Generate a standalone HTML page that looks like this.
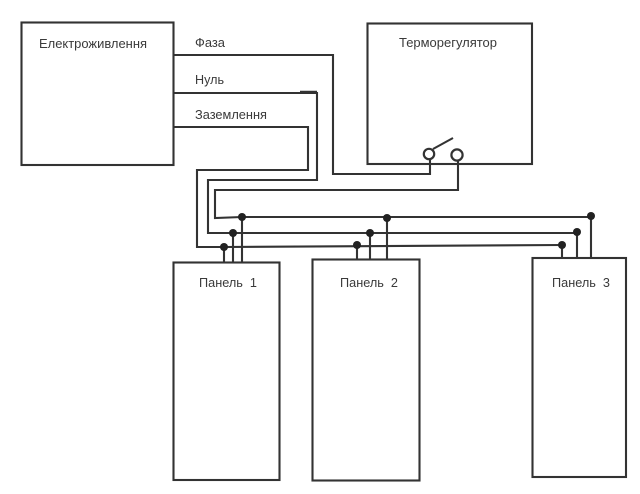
<!DOCTYPE html>
<html><head><meta charset="utf-8"><style>html,body{margin:0;padding:0;background:#fff}svg{display:block}text{font-family:"Liberation Sans",sans-serif;font-size:12.5px;fill:#3a3a3a}</style></head>
<body>
<svg width="640" height="494" viewBox="0 0 640 494" xmlns="http://www.w3.org/2000/svg">
<rect width="640" height="494" fill="#fff"/>
<g fill="none" stroke="#333" stroke-width="2.1">
<rect x="21.5" y="22.5" width="152" height="142.5"/>
<rect x="367.5" y="23.5" width="164.5" height="140.5"/>
<rect x="173.5" y="262.5" width="106" height="217.5"/>
<rect x="312.5" y="259.5" width="107" height="221"/>
<rect x="532.5" y="258" width="93.5" height="219"/>
<path d="M174 55H333V174H430V159"/>
<path d="M174 93H317V180H208V233H577"/>
<path d="M174 127H308V170H197V247L224 247L562 245"/>
<path d="M458 160V190H215V218L242 217H591"/>
<path d="M224 247V262M233 233V262M242 217V262M357 245V259M370 233V259M387 218V259M562 245V258M577 232V258M591 216V258"/>
<path d="M433 149L453 138"/>
<path d="M300 92H317" stroke-width="2.6"/>
<circle cx="429" cy="154" r="5.2" stroke-width="2.2"/>
<circle cx="457" cy="155" r="5.6" stroke-width="2.2"/>
</g>
<g fill="#222">
<circle cx="242" cy="217" r="4"/><circle cx="387" cy="218" r="4"/><circle cx="591" cy="216" r="4"/>
<circle cx="233" cy="233" r="4"/><circle cx="370" cy="233" r="4"/><circle cx="577" cy="232" r="4"/>
<circle cx="224" cy="247" r="4"/><circle cx="357" cy="245" r="4"/><circle cx="562" cy="245" r="4"/>
</g>
<text x="39" y="48" textLength="108" lengthAdjust="spacingAndGlyphs">Електроживлення</text>
<text x="195" y="47" textLength="30" lengthAdjust="spacingAndGlyphs">Фаза</text>
<text x="195" y="84" textLength="29" lengthAdjust="spacingAndGlyphs">Нуль</text>
<text x="195" y="119" textLength="72" lengthAdjust="spacingAndGlyphs">Заземлення</text>
<text x="399" y="47" textLength="98" lengthAdjust="spacingAndGlyphs">Терморегулятор</text>
<text x="199" y="287" textLength="58" xml:space="preserve" lengthAdjust="spacingAndGlyphs">Панель  1</text>
<text x="340" y="287" textLength="58" xml:space="preserve" lengthAdjust="spacingAndGlyphs">Панель  2</text>
<text x="552" y="287" textLength="58" xml:space="preserve" lengthAdjust="spacingAndGlyphs">Панель  3</text>
</svg>
</body></html>
